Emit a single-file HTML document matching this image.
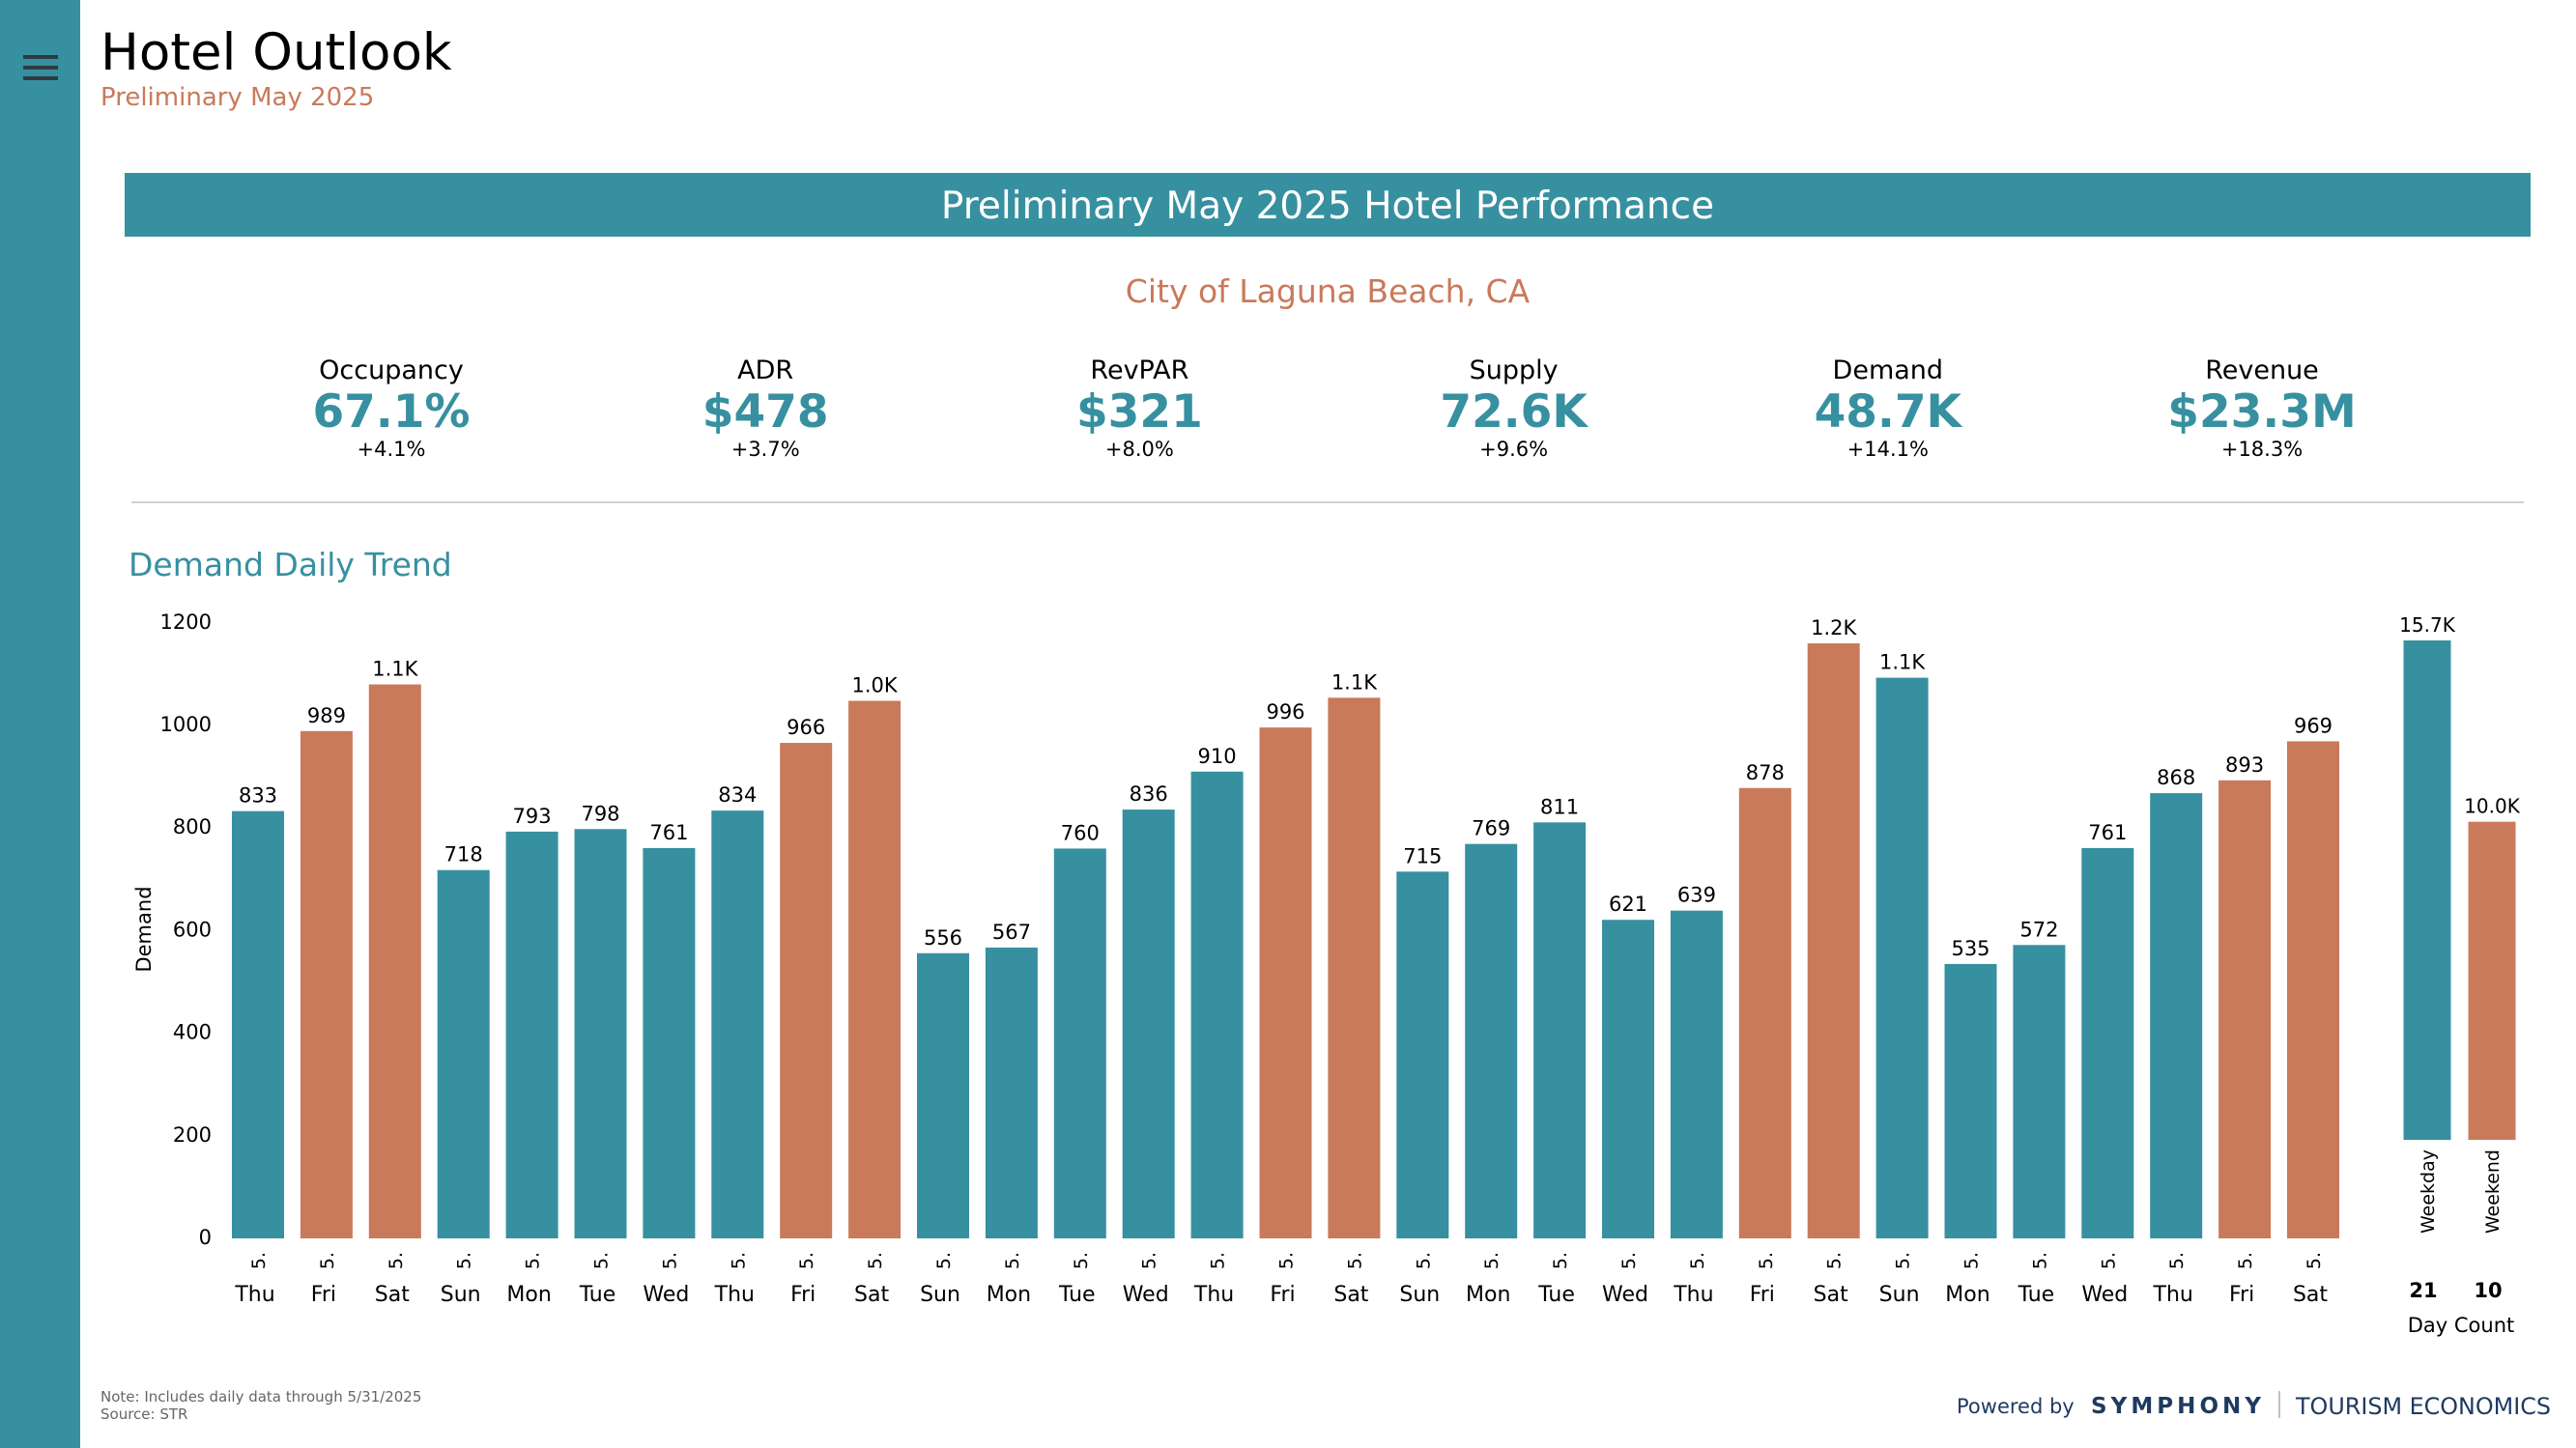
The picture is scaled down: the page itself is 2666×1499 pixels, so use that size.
<!DOCTYPE html>
<html><head><meta charset="utf-8"><style>
html,body{margin:0;padding:0;background:#fff;}
svg{display:block;font-family:"DejaVu Sans","Liberation Sans",sans-serif;}
</style></head><body>
<svg id="page" width="2666" height="1499" viewBox="0 0 2666 1499" xmlns="http://www.w3.org/2000/svg">
<rect x="0" y="0" width="83" height="1499" fill="#3790A0"/>
<g fill="#2f3a40">
<rect x="24" y="57" width="36" height="4"/><rect x="24" y="68" width="36" height="4"/><rect x="24" y="79" width="36" height="4"/>
</g>
<text x="104" y="72" font-size="53" fill="#000">Hotel Outlook</text>
<text x="104" y="109" font-size="26" fill="#C97A5A">Preliminary May 2025</text>
<rect x="129" y="179" width="2490" height="66" fill="#3790A0"/>
<text x="1374" y="226" font-size="39" fill="#fff" text-anchor="middle">Preliminary May 2025 Hotel Performance</text>
<text x="1374" y="313" font-size="33" fill="#C97A5A" text-anchor="middle">City of Laguna Beach, CA</text>
<g id="kpis"></g>
<line x1="136" y1="520" x2="2612" y2="520" stroke="#d0d0d0" stroke-width="2"/>
<text x="133" y="596" font-size="33" fill="#3790A0">Demand Daily Trend</text>
<g id="chart"></g>
<g id="summary"></g>
<text x="104" y="1451" font-size="15" fill="#666">Note: Includes daily data through 5/31/2025</text>
<text x="104" y="1469" font-size="15" fill="#666">Source: STR</text>
<g>
<text x="2025" y="1463" font-size="21" fill="#1F3A5F">Powered by</text>
<text x="2164" y="1463" font-size="23" font-weight="bold" fill="#1F3A5F" textLength="176" lengthAdjust="spacing">SYMPHONY</text>
<line x1="2359" y1="1440" x2="2359" y2="1468" stroke="#aab" stroke-width="1.5"/>
<text x="2376" y="1464" font-size="24" fill="#1F3A5F" textLength="264" lengthAdjust="spacingAndGlyphs">TOURISM ECONOMICS</text>
</g>
</svg>
<script>
const NS="http://www.w3.org/2000/svg";
const kpiLabels=["Occupancy","ADR","RevPAR","Supply","Demand","Revenue"];
const kpiValues=["67.1%","$478","$321","72.6K","48.7K","$23.3M"];
const kpiChanges=["+4.1%","+3.7%","+8.0%","+9.6%","+14.1%","+18.3%"];
const days=["Thu","Fri","Sat","Sun","Mon","Tue","Wed","Thu","Fri","Sat","Sun","Mon","Tue","Wed","Thu","Fri","Sat","Sun","Mon","Tue","Wed","Thu","Fri","Sat","Sun","Mon","Tue","Wed","Thu","Fri","Sat"];
const demand=[833,989,1080,718,793,798,761,834,966,1048,556,567,760,836,910,996,1054,715,769,811,621,639,878,1160,1093,535,572,761,868,893,969];
const demandLabels=["833","989","1.1K","718","793","798","761","834","966","1.0K","556","567","760","836","910","996","1.1K","715","769","811","621","639","878","1.2K","1.1K","535","572","761","868","893","969"];
const yTicks=[0,200,400,600,800,1000,1200];
const summaryCats=["Weekday","Weekend"];
const summaryValues=[15700,10000];
const summaryLabels=["15.7K","10.0K"];
const dayCounts=["21","10"];
const TEAL="#3790A0",ORANGE="#C97A5A";
function el(tag,attrs,parent,txt){const e=document.createElementNS(NS,tag);for(const k in attrs)e.setAttribute(k,attrs[k]);if(txt!==undefined)e.textContent=txt;parent.appendChild(e);return e;}
const kg=document.getElementById('kpis');
kpiLabels.forEach((l,i)=>{
  const cx=405+387.2*i;
  const g=el('g',{},kg);
  
  
  el('text',{x:cx,y:392,'font-size':27,'text-anchor':'middle',fill:'#000'},g,l);
  el('text',{x:cx,y:442,'font-size':47,'font-weight':'bold','text-anchor':'middle',fill:TEAL},g,kpiValues[i]);
  el('text',{x:cx,y:472,'font-size':21,'text-anchor':'middle',fill:'#000'},g,kpiChanges[i]);
});
const cg=document.getElementById('chart');
const y0=1282,pxPer=0.531;
const yS=v=>y0-v*pxPer;
const xS=i=>267+70.9*i;
const bw=54;
yTicks.forEach(t=>{
  const tx=el('text',{x:219,y:yS(t)+6,'font-size':21,'text-anchor':'end',fill:'#000'},cg,String(t));
  
  
});
const yt=el('text',{x:0,y:0,'font-size':21,'text-anchor':'middle',fill:'#000',transform:'translate(156,962) rotate(-90)'},cg,'Demand');


demand.forEach((v,i)=>{
  const cx=xS(i);
  const wk=(days[i]==="Fri"||days[i]==="Sat");
  const r=el('rect',{x:cx-bw/2,y:yS(v),width:bw,height:v*pxPer,fill:wk?ORANGE:TEAL},cg);
  
  
  const lb=el('text',{x:cx,y:yS(v)-9,'font-size':21,'text-anchor':'middle',fill:'#000'},cg,demandLabels[i]);
  
  
  const m=el('text',{x:0,y:0,'font-size':19,'text-anchor':'middle',fill:'#000',transform:`translate(${cx+7},1305) rotate(-90)`},cg,'5.');
  
  
  const d=el('text',{x:cx-3,y:1347,'font-size':22,'text-anchor':'middle',fill:'#000'},cg,days[i]);
  
  
});
const sg=document.getElementById('summary');
const sBase=1180,sPer=517/15700;
const sx=[2512,2579],sw=49;
summaryValues.forEach((v,i)=>{
  const r=el('rect',{x:sx[i]-sw/2,y:sBase-v*sPer,width:sw,height:v*sPer,fill:i===0?TEAL:ORANGE},sg);
  
  
  const lb=el('text',{x:sx[i],y:sBase-v*sPer-9,'font-size':20,'text-anchor':'middle',fill:'#000'},sg,summaryLabels[i]);
  
  
  const c=el('text',{x:0,y:0,'font-size':19,'text-anchor':'end',fill:'#000',transform:`translate(${sx[i]+7},1190) rotate(-90)`},sg,summaryCats[i]);
  
  
  const dc=el('text',{x:sx[i]-4,y:1343,'font-size':21,'font-weight':'bold','text-anchor':'middle',fill:'#000'},sg,dayCounts[i]);
  
  
});
const dct=el('text',{x:2547,y:1379,'font-size':21,'text-anchor':'middle',fill:'#000'},sg,'Day Count');


</script>
</body></html>
